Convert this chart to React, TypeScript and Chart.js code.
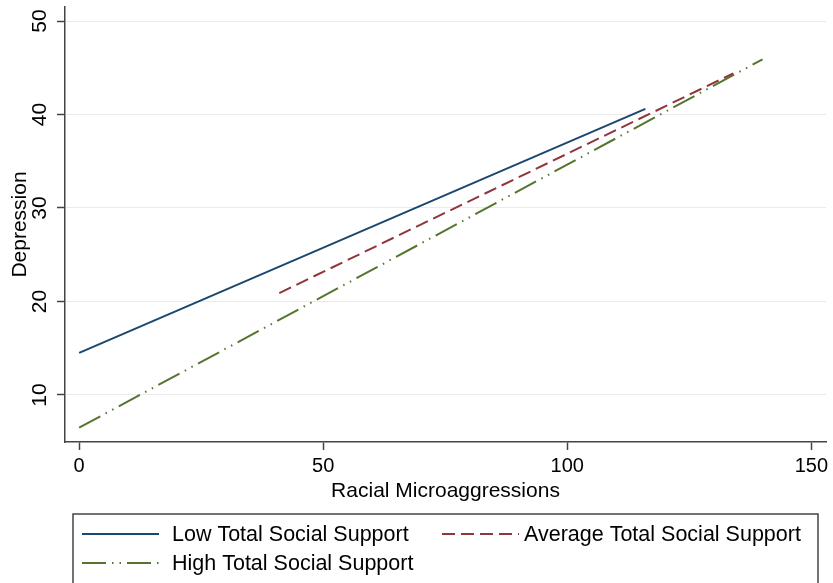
import React, { useEffect, useRef } from "react";
import { Chart, registerables } from "chart.js";

Chart.register(...registerables);

// ---- data ----
const xTicks = [0, 50, 100, 150];
const yTicks = [10, 20, 30, 40, 50];
const seriesLabels = [
  "Low Total Social Support",
  "Average Total Social Support",
  "High Total Social Support",
];
const lowX = [0, 116];
const lowY = [14.5, 40.6];
const avgX = [41, 134];
const avgY = [20.9, 44.4];
const highX = [0, 140];
const highY = [6.5, 45.9];

// ---- styles ----
const FONT = '"Liberation Sans", Arial, Helvetica, sans-serif';
const seriesColors = ["#1a476f", "#90353b", "#55752f"];
const seriesDashes: number[][] = [[], [13, 6], [24, 6, 1.5, 6, 1.5, 6]];
const AXIS = "#444444";

const toPoints = (xs: number[], ys: number[]) => xs.map((x, i) => ({ x, y: ys[i] }));

const boxLegend = {
  id: "boxLegend",
  afterDraw(chart: any) {
    const ctx = chart.ctx as CanvasRenderingContext2D;
    ctx.save();
    ctx.strokeStyle = AXIS;
    ctx.lineWidth = 1.5;
    ctx.setLineDash([]);
    ctx.strokeRect(73, 514, 745, 120);
    const slots = [
      { i: 0, x: 82, y: 534, tx: 172 },
      { i: 1, x: 442, y: 534, tx: 524 },
      { i: 2, x: 82, y: 563, tx: 172 },
    ];
    slots.forEach(({ i, x, y, tx }) => {
      const ds = chart.data.datasets[i];
      ctx.strokeStyle = ds.borderColor;
      ctx.lineWidth = 2;
      ctx.setLineDash(ds.borderDash || []);
      ctx.beginPath();
      ctx.moveTo(x, y);
      ctx.lineTo(x + 77, y);
      ctx.stroke();
      ctx.setLineDash([]);
      ctx.fillStyle = "#000";
      ctx.font = `21.5px ${FONT}`;
      ctx.textAlign = "left";
      ctx.textBaseline = "middle";
      ctx.fillText(ds.label, tx, y + 1.5);
    });
    ctx.restore();
  },
};

export default function App() {
  const ref = useRef<HTMLCanvasElement>(null);
  useEffect(() => {
    document.body.style.margin = "0";
    const series = [
      toPoints(lowX, lowY),
      toPoints(avgX, avgY),
      toPoints(highX, highY),
    ];
    const chart = new Chart(ref.current as HTMLCanvasElement, {
      type: "scatter",
      data: {
        datasets: series.map((pts, i) => ({
          label: seriesLabels[i],
          data: pts,
          showLine: true,
          borderColor: seriesColors[i],
          backgroundColor: seriesColors[i],
          borderDash: seriesDashes[i],
          borderWidth: 2,
          pointRadius: 0,
          pointHoverRadius: 0,
          fill: false,
          tension: 0,
        })),
      },
      options: {
        responsive: false,
        animation: false,
        devicePixelRatio: 1,
        layout: { padding: { left: 0, top: 7, right: 7, bottom: 79 } },
        plugins: {
          legend: { display: false },
          tooltip: { enabled: false },
        },
        scales: {
          x: {
            type: "linear",
            min: -2.9,
            max: 153,
            afterBuildTicks: (s: any) => {
              s.ticks = xTicks.map((v) => ({ value: v }));
            },
            afterFit: (s: any) => {
              s.height = 62;
              s.paddingLeft = 0;
              s.paddingRight = 0;
            },
            grid: {
              drawOnChartArea: false,
              drawTicks: true,
              tickLength: 8,
              tickColor: AXIS,
              tickWidth: 1.5,
            },
            border: { display: true, color: AXIS, width: 1.5 },
            ticks: {
              color: "#000",
              font: { size: 20, family: FONT },
              padding: 4,
              maxRotation: 0,
              autoSkip: false,
            },
            title: {
              display: true,
              text: "Racial Microaggressions",
              color: "#000",
              font: { size: 21, family: FONT },
              padding: { top: 0, bottom: 0 },
            },
          },
          y: {
            type: "linear",
            min: 4.97,
            max: 51.5,
            afterBuildTicks: (s: any) => {
              s.ticks = yTicks.map((v) => ({ value: v }));
            },
            afterFit: (s: any) => {
              s.width = 65;
              s.paddingTop = 0;
              s.paddingBottom = 0;
            },
            grid: {
              color: "#ebebeb",
              lineWidth: 1,
              drawTicks: true,
              tickLength: 8,
              tickColor: AXIS,
              tickWidth: 1.5,
            },
            border: { display: true, color: AXIS, width: 1.5 },
            ticks: {
              color: "#000",
              font: { size: 21, family: FONT },
              padding: 5,
              minRotation: 90,
              maxRotation: 90,
              crossAlign: "center",
              autoSkip: false,
            },
            title: {
              display: true,
              text: "Depression",
              color: "#000",
              font: { size: 21, family: FONT },
              padding: { top: 8, bottom: 0 },
            },
          },
        },
      },
      plugins: [boxLegend],
    } as any);
    return () => chart.destroy();
  }, []);
  return (
    <div
      style={{
        position: "fixed",
        left: 0,
        top: 0,
        width: 833,
        height: 583,
        background: "#fff",
        overflow: "hidden",
      }}
    >
      <canvas ref={ref} width={833} height={583} style={{ display: "block" }} />
    </div>
  );
}
